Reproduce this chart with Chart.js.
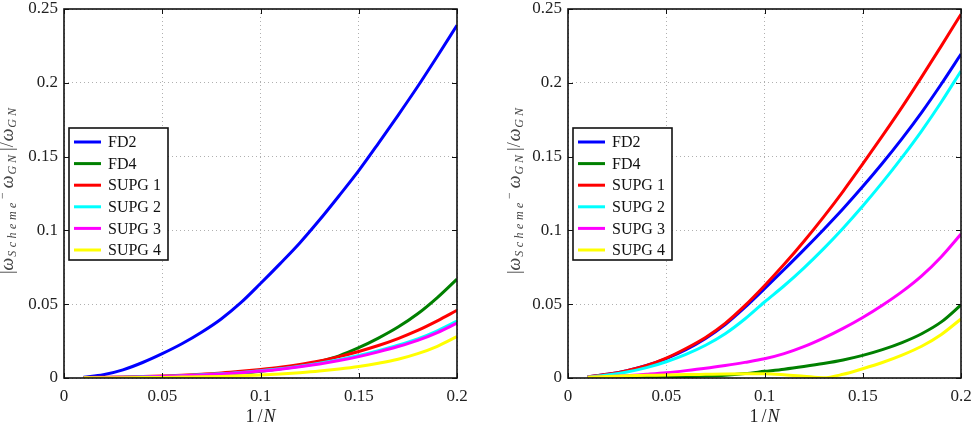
<!DOCTYPE html>
<html>
<head>
<meta charset="utf-8">
<script src="https://cdn.jsdelivr.net/npm/chart.js@4.4.1/dist/chart.umd.min.js"></script>
<style>
  html, body { margin: 0; padding: 0; background: #fff; overflow: hidden; }
  #wrap { position: relative; width: 974px; height: 426px; }
  .panel { position: absolute; top: 0; width: 487px; height: 426px; }
</style>
</head>
<body>
<div id="wrap">
  <div class="panel" style="left:0"><canvas id="leftChart" width="487" height="426"></canvas></div>
  <div class="panel" style="left:487px"><canvas id="rightChart" width="487" height="426"></canvas></div>
</div>
<script>
// x values (1/N)
const invN = [0.01, 0.02, 0.03, 0.04, 0.05, 0.06, 0.07, 0.08, 0.09, 0.10,
              0.11, 0.12, 0.13, 0.14, 0.15, 0.16, 0.17, 0.18, 0.19, 0.20];

const seriesNames = ['FD2', 'FD4', 'SUPG 1', 'SUPG 2', 'SUPG 3', 'SUPG 4'];
const seriesColors = ['#0000ff', '#008000', '#ff0000', '#00ffff', '#ff00ff', '#ffff00'];

const xTicks = [0, 0.05, 0.1, 0.15, 0.2];
const yTicks = [0, 0.05, 0.1, 0.15, 0.2, 0.25];

// left panel
const leftFD2 = [0.0005, 0.0022, 0.0055, 0.0105, 0.0165, 0.0232, 0.0310, 0.0400, 0.0510, 0.0640,
                 0.0775, 0.0915, 0.1070, 0.1235, 0.1405, 0.1590, 0.1780, 0.1975, 0.2180, 0.2390];
const leftFD4 = [0.0002, 0.0003, 0.0004, 0.0006, 0.0009, 0.0013, 0.0018, 0.0025, 0.0034, 0.0046,
                 0.0062, 0.0083, 0.0112, 0.0150, 0.0205, 0.0270, 0.0345, 0.0435, 0.0545, 0.0670];
const leftS1 = [0.0003, 0.0005, 0.0007, 0.0010, 0.0014, 0.0019, 0.0026, 0.0034, 0.0045, 0.0058,
                0.0073, 0.0092, 0.0115, 0.0145, 0.0180, 0.0220, 0.0267, 0.0322, 0.0387, 0.0458];
const leftS2 = [0.0002, 0.0003, 0.0005, 0.0008, 0.0011, 0.0016, 0.0022, 0.0029, 0.0038, 0.0050,
                0.0063, 0.0080, 0.0100, 0.0124, 0.0152, 0.0185, 0.0222, 0.0265, 0.0320, 0.0385];
const leftS3 = [0.0002, 0.0003, 0.0005, 0.0007, 0.0010, 0.0015, 0.0020, 0.0027, 0.0036, 0.0047,
                0.0060, 0.0076, 0.0095, 0.0118, 0.0145, 0.0177, 0.0213, 0.0255, 0.0308, 0.0372];
const leftS4 = [0.0001, 0.0001, 0.0002, 0.0003, 0.0004, 0.0006, 0.0008, 0.0011, 0.0015, 0.0020,
                0.0027, 0.0036, 0.0047, 0.0061, 0.0078, 0.0100, 0.0127, 0.0165, 0.0215, 0.0280];

// right panel
const rightFD2 = [0.0008, 0.0025, 0.0050, 0.0085, 0.0132, 0.0192, 0.0268, 0.0362, 0.0478, 0.0605,
                  0.0735, 0.0868, 0.1005, 0.1147, 0.1297, 0.1455, 0.1622, 0.1800, 0.1992, 0.2195];
const rightFD4 = [0.0002, 0.0002, 0.0003, 0.0004, 0.0006, 0.0009, 0.0013, 0.0019, 0.0030, 0.0045,
                  0.0060, 0.0078, 0.0098, 0.0122, 0.0153, 0.0192, 0.0240, 0.0300, 0.0380, 0.0495];
const rightS1 = [0.0008, 0.0025, 0.0050, 0.0085, 0.0135, 0.0200, 0.0275, 0.0370, 0.0490, 0.0625,
                 0.0770, 0.0925, 0.1090, 0.1265, 0.1450, 0.1640, 0.1835, 0.2040, 0.2250, 0.2465];
const rightS2 = [0.0006, 0.0020, 0.0040, 0.0070, 0.0110, 0.0160, 0.0222, 0.0300, 0.0400, 0.0515,
                 0.0625, 0.0745, 0.0875, 0.1015, 0.1165, 0.1325, 0.1495, 0.1675, 0.1870, 0.2080];
const rightS3 = [0.0005, 0.0008, 0.0015, 0.0025, 0.0036, 0.0050, 0.0066, 0.0085, 0.0106, 0.0130,
                 0.0165, 0.0212, 0.0270, 0.0336, 0.0410, 0.0493, 0.0585, 0.0692, 0.0822, 0.0975];
const rightS4 = [0.0005, 0.0010, 0.0015, 0.0018, 0.0020, 0.0023, 0.0025, 0.0027, 0.0028, 0.0028,
                 0.0022, 0.0012, 0.0002, 0.0025, 0.0063, 0.0105, 0.0155, 0.0215, 0.0295, 0.0400];

const SERIF = '"Liberation Serif", "Times New Roman", serif';

// box, inward ticks, legend and axis titles (matlab look)
const matlabFrame = {
    id: 'matlabFrame',
    afterDatasetsDraw(chart, args, opts) {
        const ctx = chart.ctx;
        const a = chart.chartArea;
        const xs = chart.scales.x, ys = chart.scales.y;
        ctx.save();
        ctx.strokeStyle = '#111';
        ctx.lineWidth = 1;
        ctx.beginPath();
        xTicks.forEach(v => {
            const px = Math.round(xs.getPixelForValue(v)) + 0.5;
            ctx.moveTo(px, a.bottom); ctx.lineTo(px, a.bottom - 5);
            ctx.moveTo(px, a.top); ctx.lineTo(px, a.top + 5);
        });
        yTicks.forEach(v => {
            const py = Math.round(ys.getPixelForValue(v)) + 0.5;
            ctx.moveTo(a.left, py); ctx.lineTo(a.left + 5, py);
            ctx.moveTo(a.right, py); ctx.lineTo(a.right - 5, py);
        });
        ctx.stroke();
        ctx.lineWidth = 1.6;
        ctx.strokeRect(a.left, a.top, a.right - a.left, a.bottom - a.top);

        // legend
        const lx = a.left + 5, ly = 128, lw = 99, lh = 132;
        ctx.fillStyle = '#fff';
        ctx.fillRect(lx, ly, lw, lh);
        ctx.lineWidth = 1.6;
        ctx.strokeStyle = '#111';
        ctx.strokeRect(lx, ly, lw, lh);
        ctx.font = '16px ' + SERIF;
        ctx.textBaseline = 'middle';
        ctx.textAlign = 'left';
        chart.data.datasets.forEach((ds, i) => {
            const ry = 142 + i * 21.6;
            ctx.strokeStyle = ds.borderColor;
            ctx.lineWidth = 3;
            ctx.beginPath();
            ctx.moveTo(lx + 5, ry); ctx.lineTo(lx + 32, ry);
            ctx.stroke();
            ctx.fillStyle = '#111';
            ctx.fillText(ds.label, lx + 39, ry + 1);
        });

        // x title: 1/N
        ctx.fillStyle = '#222';
        ctx.textBaseline = 'alphabetic';
        const cx = (a.left + a.right) / 2;
        const partsX = [
            { t: '1', f: '18px ' + SERIF, gap: 3 },
            { t: '/', f: '18px ' + SERIF, gap: 1 },
            { t: 'N', f: 'italic 18px ' + SERIF, gap: 0 }
        ];
        drawParts(ctx, partsX, cx, 422);

        // y title
        const big = 'italic 18px ' + SERIF;
        const small = 'italic 12px ' + SERIF;
        const partsY = [
            { t: '|', f: '18px ' + SERIF, gap: 0 },
            { t: 'ω', f: big, gap: 1 },
            { t: 'Scheme', f: small, dy: 3, sp: 3.5, gap: 0 },
            { t: '−', f: '12px ' + SERIF, dy: -7, gap: 4 },
            { t: 'ω', f: big, gap: 1 },
            { t: 'GN', f: small, dy: 3, sp: 3, gap: 1 },
            { t: '|/', f: '18px ' + SERIF, gap: 1 },
            { t: 'ω', f: big, gap: 1 },
            { t: 'GN', f: small, dy: 3, sp: 3, gap: 0 }
        ];
        ctx.fillStyle = '#444';
        ctx.translate(a.left - opts.titleOffset, (a.top + a.bottom) / 2 - 4);
        ctx.rotate(-Math.PI / 2);
        drawParts(ctx, partsY, 0, 0);
        ctx.restore();
    }
};

function drawParts(ctx, parts, cx, baseY) {
    let total = 0;
    parts.forEach(p => {
        ctx.font = p.f;
        p.w = 0;
        for (const ch of p.t) p.w += ctx.measureText(ch).width + (p.sp || 0);
        total += p.w + (p.gap || 0);
    });
    let x = cx - total / 2;
    parts.forEach(p => {
        ctx.font = p.f;
        for (const ch of p.t) {
            ctx.fillText(ch, x, baseY + (p.dy || 0));
            x += ctx.measureText(ch).width + (p.sp || 0);
        }
        x += p.gap || 0;
    });
}

function makeChart(id, values, left, right, titleOffset) {
    const datasets = values.map((arr, i) => ({
        label: seriesNames[i],
        data: invN.map((x, j) => ({ x: x, y: arr[j] })),
        borderColor: seriesColors[i],
        backgroundColor: seriesColors[i],
        borderWidth: 3,
        pointRadius: 0,
        fill: false,
        cubicInterpolationMode: 'monotone',
        order: values.length - i
    }));

    return new Chart(document.getElementById(id).getContext('2d'), {
        type: 'line',
        data: { datasets: datasets },
        options: {
            responsive: false,
            animation: false,
            devicePixelRatio: 1,
            layout: { padding: { left: left - 44, right: 487 - right, top: 9, bottom: 426 - 378 - 40 } },
            plugins: {
                legend: { display: false },
                tooltip: { enabled: false },
                matlabFrame: { titleOffset: titleOffset }
            },
            scales: {
                x: {
                    type: 'linear',
                    min: 0,
                    max: 0.2,
                    afterBuildTicks: s => { s.ticks = xTicks.map(v => ({ value: v })); },
                    afterFit: s => { s.height = 40; },
                    grid: { color: '#b0b0b0', lineWidth: 1, drawTicks: true, tickLength: 10, tickColor: 'rgba(0,0,0,0)' },
                    border: { display: false, dash: [1, 3] },
                    ticks: {
                        padding: 0,
                        color: '#222',
                        maxRotation: 0,
                        font: { family: SERIF, size: 17, lineHeight: 1 },
                        callback: v => String(v)
                    }
                },
                y: {
                    min: 0,
                    max: 0.25,
                    afterBuildTicks: s => { s.ticks = yTicks.map(v => ({ value: v })); },
                    afterFit: s => { s.width = 44; },
                    grid: { color: '#b0b0b0', lineWidth: 1, drawTicks: true, tickLength: 6, tickColor: 'rgba(0,0,0,0)' },
                    border: { display: false, dash: [1, 3] },
                    ticks: {
                        padding: 0,
                        color: '#222',
                        font: { family: SERIF, size: 17, lineHeight: 1 },
                        callback: v => String(v)
                    }
                }
            }
        },
        plugins: [matlabFrame]
    });
}

makeChart('leftChart', [leftFD2, leftFD4, leftS1, leftS2, leftS3, leftS4], 64, 457, 51);
makeChart('rightChart', [rightFD2, rightFD4, rightS1, rightS2, rightS3, rightS4], 81, 474, 48);
</script>
</body>
</html>
